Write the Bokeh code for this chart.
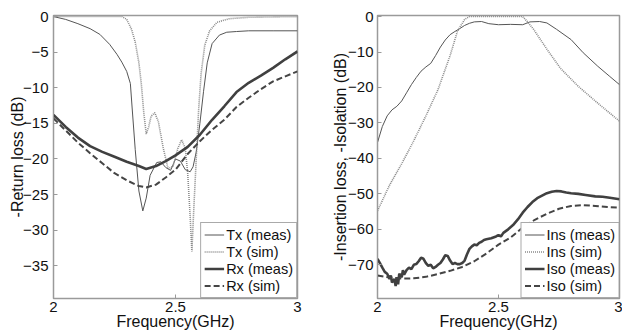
from bokeh.plotting import figure
from bokeh.layouts import row
from bokeh.models import Range1d, FixedTicker, Legend, LegendItem
from bokeh.embed import file_html
from bokeh.resources import INLINE

# ---------------- Left panel: return loss ----------------
tx_meas_f = [2.0, 2.05, 2.1, 2.15, 2.19, 2.23, 2.26, 2.28, 2.30, 2.315, 2.322, 2.335, 2.35, 2.366,
             2.38, 2.396, 2.423, 2.44, 2.46, 2.48, 2.50, 2.52, 2.54, 2.56, 2.572, 2.585, 2.60,
             2.615, 2.63, 2.65, 2.68, 2.71, 2.75, 2.8, 2.9, 3.0]
tx_meas_v = [0.0, -0.4, -1.0, -1.7, -2.5, -3.9, -5.3, -6.4, -7.7, -9.4, -12.7, -18.7, -24.5, -27.3,
             -25.5, -22.3, -20.5, -20.4, -21.2, -21.6, -20.0, -20.3, -21.5, -21.8, -21.1, -19.0, -15.0,
             -10.5, -6.5, -3.8, -2.6, -2.2, -2.1, -2.0, -2.0, -2.0]

tx_sim_f = [2.0, 2.2, 2.28, 2.30, 2.32, 2.335, 2.35, 2.36, 2.37, 2.38, 2.39, 2.40, 2.415, 2.43, 2.45,
            2.47, 2.49, 2.51, 2.525, 2.54, 2.55, 2.56, 2.567, 2.575, 2.585, 2.595, 2.605, 2.62,
            2.64, 2.67, 2.72, 2.8, 3.0]
tx_sim_v = [0.0, 0.0, 0.0, -0.4, -1.8, -3.6, -6.5, -9.5, -13.5, -16.5, -15.5, -14.0, -13.5, -14.8,
            -18.5, -21.4, -21.0, -18.5, -17.3, -18.5, -22.0, -28.0, -33.0, -27.0, -20.0, -13.0,
            -8.0, -4.0, -2.0, -0.8, -0.3, -0.1, 0.0]

rx_meas_f = [2.0, 2.05, 2.1, 2.15, 2.2, 2.25, 2.3, 2.35, 2.38, 2.42, 2.46, 2.5, 2.55, 2.6, 2.65,
             2.7, 2.75, 2.8, 2.85, 2.9, 2.95, 3.0]
rx_meas_v = [-13.8, -15.5, -17.0, -18.2, -19.0, -19.7, -20.4, -21.0, -21.4, -21.0, -20.3, -19.5,
             -18.3, -16.6, -14.5, -12.6, -10.6, -9.3, -8.3, -7.2, -6.0, -4.9]

rx_sim_f = [2.0, 2.05, 2.1, 2.15, 2.2, 2.25, 2.3, 2.35, 2.38, 2.42, 2.46, 2.5, 2.55, 2.6, 2.65,
            2.7, 2.75, 2.8, 2.85, 2.9, 2.95, 3.0]
rx_sim_v = [-14.3, -16.0, -17.7, -19.2, -20.6, -22.0, -23.0, -23.8, -24.0, -23.6, -22.6, -21.5,
            -19.3, -17.5, -15.9, -14.5, -12.7, -11.4, -10.2, -9.1, -8.4, -7.7]

left_yticks = [0, -5, -10, -15, -20, -25, -30, -35]
left_labels = ["Tx (meas)", "Tx (sim)", "Rx (meas)", "Rx (sim)"]

# ---------------- Right panel: insertion loss / isolation ----------------
ins_meas_f = [2.0, 2.02, 2.04, 2.06, 2.08, 2.1, 2.12, 2.14, 2.16, 2.18, 2.2, 2.22, 2.24, 2.26, 2.28,
              2.30, 2.32, 2.34, 2.36, 2.38, 2.40, 2.43, 2.46, 2.5, 2.55, 2.6, 2.63, 2.67, 2.7, 2.74,
              2.8, 2.85, 2.91, 2.96, 3.0]
ins_meas_v = [-35.5, -31.0, -28.0, -26.3, -25.3, -23.8, -21.5, -19.2, -17.2, -15.4, -14.2, -13.2,
              -11.0, -8.6, -6.6, -5.1, -4.2, -3.4, -2.5, -1.9, -1.5, -1.4, -2.0, -2.3, -2.2, -2.3,
              -1.5, -1.4, -1.8, -3.6, -6.5, -10.2, -14.0, -16.9, -19.2]

ins_sim_f = [2.0, 2.05, 2.1, 2.15, 2.2, 2.25, 2.3, 2.33, 2.36, 2.38, 2.6, 2.62, 2.645, 2.7, 2.756,
             2.83, 2.91, 3.0]
ins_sim_v = [-54.8, -47.5, -41.5, -35.0, -28.0, -20.6, -11.0, -4.2, -0.8, 0.0, 0.0, -1.5, -3.6,
             -9.2, -14.6, -19.7, -24.4, -29.5]

iso_meas_f = [2.0, 2.01, 2.02, 2.03, 2.04, 2.05, 2.055, 2.06, 2.07, 2.075, 2.08, 2.085, 2.09, 2.1,
              2.105, 2.11, 2.12, 2.13, 2.14, 2.15, 2.16, 2.17, 2.18, 2.19, 2.2, 2.21, 2.22, 2.23,
              2.24, 2.25, 2.26, 2.27, 2.28, 2.29, 2.3, 2.31, 2.32, 2.33, 2.34, 2.35, 2.36, 2.37,
              2.38, 2.39, 2.4, 2.41, 2.42, 2.43, 2.44, 2.45, 2.47, 2.49, 2.5, 2.51, 2.52, 2.54,
              2.56, 2.58, 2.6, 2.62, 2.64, 2.66, 2.68, 2.7, 2.72, 2.74, 2.76, 2.78, 2.8, 2.83,
              2.86, 2.9, 2.93, 2.96, 3.0]
iso_meas_v = [-68.3, -69.5, -70.8, -72.0, -72.5, -74.0, -73.0, -75.0, -74.0, -76.0, -73.5, -75.5,
              -72.5, -73.5, -71.5, -72.8, -71.5, -70.8, -71.2, -70.0, -69.8, -69.0, -68.0, -68.3,
              -69.5, -70.3, -70.0, -71.0, -70.6, -70.0, -69.5, -68.5, -67.3, -67.5, -68.8, -69.8,
              -69.5, -69.8, -69.8, -69.5, -68.8, -67.0, -65.5, -64.8, -64.3, -64.5, -63.8, -63.5,
              -63.0, -62.8, -62.5, -62.0, -61.6, -62.0, -61.0, -60.0, -58.8, -57.2, -55.3, -53.7,
              -52.3, -51.2, -50.5, -49.8, -49.4, -49.2, -49.3, -49.6, -49.8, -50.0, -50.3, -50.7,
              -50.8, -51.1, -51.5]

iso_sim_f = [2.0, 2.05, 2.1, 2.15, 2.2, 2.25, 2.3, 2.35, 2.4, 2.45, 2.5, 2.55, 2.6, 2.65, 2.7,
             2.75, 2.8, 2.85, 2.9, 2.95, 3.0]
iso_sim_v = [-73.0, -73.6, -73.9, -73.8, -73.4, -72.6, -71.7, -70.6, -69.0, -66.8, -64.3, -62.3,
             -59.5, -57.3, -55.6, -54.2, -53.4, -53.2, -53.4, -53.7, -53.9]

right_yticks = [0, -10, -20, -30, -40, -50, -60, -70]
right_labels = ["Ins (meas)", "Ins (sim)", "Iso (meas)", "Iso (sim)"]

x_ticks = [2, 2.5, 3]

FONT = "Liberation Sans"
AX = "#9a9a9a"


def style(p, yticks, ylabel, ylab_standoff, ytick_standoff):
    p.xaxis.ticker = FixedTicker(ticks=x_ticks)
    p.xaxis.major_label_overrides = {2: "2", 2.5: "2.5", 3: "3"}
    p.yaxis.ticker = FixedTicker(ticks=yticks)
    p.xaxis.axis_label = "Frequency(GHz)"
    p.yaxis.axis_label = ylabel
    for ax in (p.xaxis, p.yaxis):
        ax.axis_line_color = AX
        ax.major_tick_line_color = AX
        ax.major_tick_in = 4
        ax.major_tick_out = 0
        ax.minor_tick_line_color = None
        ax.major_label_text_font = FONT
        ax.major_label_text_font_size = "15px"
        ax.major_label_text_color = "#111111"
        ax.axis_label_text_font = FONT
        ax.axis_label_text_font_size = "16px"
        ax.axis_label_text_font_style = "normal"
        ax.axis_label_text_color = "#111111"
    p.xaxis.major_label_standoff = 3
    p.xaxis.axis_label_standoff = -2
    p.yaxis.major_label_standoff = ytick_standoff
    p.yaxis.axis_label_standoff = ylab_standoff
    p.grid.visible = False
    p.outline_line_color = AX
    p.outline_line_width = 1.5
    p.background_fill_color = "white"
    p.border_fill_color = "white"


def add_lines(p, series, labels):
    styles = [
        dict(line_color="#555555", line_width=1.0),
        dict(line_color="#8a8a8a", line_width=1.6, line_dash="1 1"),
        dict(line_color="#404040", line_width=2.6),
        dict(line_color="#454545", line_width=2.0, line_dash="6 3"),
    ]
    items = []
    for (fx, fy), st, lab in zip(series, styles, labels):
        r = p.line(fx, fy, **st)
        items.append(LegendItem(label=lab, renderers=[r]))
    leg = Legend(items=items, location="bottom_right")
    leg.margin = 0
    leg.padding = 3
    leg.spacing = 0
    leg.label_height = 17
    leg.glyph_height = 17
    leg.glyph_width = 20
    leg.label_standoff = 2
    leg.label_text_font = FONT
    leg.label_text_font_size = "14.5px"
    leg.label_text_color = "#111111"
    leg.border_line_color = "#555555"
    leg.border_line_width = 1
    leg.background_fill_alpha = 1
    p.add_layout(leg)


p1 = figure(width=311, height=332, x_range=Range1d(2, 3), y_range=Range1d(-39.6, 0.15),
            output_backend="svg", toolbar_location=None,
            min_border_left=53, min_border_right=14, min_border_top=15, min_border_bottom=34)
style(p1, left_yticks, "-Return loss (dB)", -6, 5)
add_lines(p1, [(tx_meas_f, tx_meas_v), (tx_sim_f, tx_sim_v), (rx_meas_f, rx_meas_v),
               (rx_sim_f, rx_sim_v)], left_labels)

p2 = figure(width=311, height=332, x_range=Range1d(2, 3), y_range=Range1d(-79.5, 0.3),
            output_backend="svg", toolbar_location=None,
            min_border_left=66, min_border_right=3, min_border_top=15, min_border_bottom=34)
style(p2, right_yticks, "-Insertion loss, -Isolation (dB)", -4, 4)
add_lines(p2, [(ins_meas_f, ins_meas_v), (ins_sim_f, ins_sim_v), (iso_meas_f, iso_meas_v),
               (iso_sim_f, iso_sim_v)], right_labels)

layout = row(p1, p2, spacing=0)
open("out.html", "w").write(file_html(layout, INLINE))
